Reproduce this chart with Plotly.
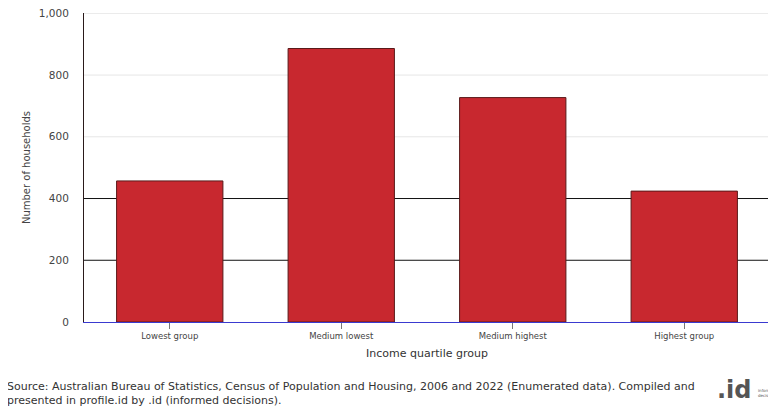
import plotly.graph_objects as go

categories = ["Lowest group", "Medium lowest", "Medium highest", "Highest group"]
households = [457, 886, 727, 424]
y_ticks = [0, 200, 400, 600, 800, 1000]
y_tick_labels = ["0", "200", "400", "600", "800", "1,000"]
dark_grid = [200, 400]
light_grid = [600, 800, 1000]

source = ("Source: Australian Bureau of Statistics, Census of Population and Housing, 2006 and 2022 (Enumerated data). Compiled and<br>"
          "presented in profile.id by .id (informed decisions).")

FONT = "DejaVu Sans, Verdana, sans-serif"
W, H = 768, 400
L, R, T, B = 76, 6, 5, 86
PW, PH = W - L - R, H - T - B

fig = go.Figure()
fig.add_trace(go.Bar(
    x=categories, y=households,
    marker=dict(color="#C8282F", line=dict(color="#5a1a1a", width=1)),
    width=0.62,
    hovertemplate="%{x}: %{y}<extra></extra>",
))

for v in dark_grid:
    fig.add_shape(type="line", xref="paper", yref="y", x0=0, x1=1, y0=v, y1=v,
                  line=dict(color="#111111", width=1), layer="below")
for v in light_grid:
    fig.add_shape(type="line", xref="paper", yref="y", x0=0, x1=1, y0=v, y1=v,
                  line=dict(color="#e6e6e6", width=1), layer="below")

fig.update_layout(
    width=W, height=H,
    margin=dict(l=L, r=R, t=T, b=B),
    plot_bgcolor="white", paper_bgcolor="white",
    font=dict(family=FONT, size=9, color="#444444"),
    showlegend=False,
    xaxis=dict(
        automargin=False,
        showgrid=False, showline=True, linecolor="#3a3ad0", linewidth=1,
        ticks="outside", ticklen=6, tickcolor="#777777",
        tickfont=dict(size=8.5, color="#444444"),
        title=dict(text="Income quartile group", font=dict(size=11, color="#333333"), standoff=9),
    ),
    yaxis=dict(
        automargin=False, ticklabeloverflow="allow",
        range=[0, 1001], tickvals=y_ticks, ticktext=y_tick_labels,
        showgrid=False, zeroline=False, showline=True, linecolor="#2a1a1a", linewidth=1,
        tickfont=dict(size=10.5, color="#444444"), ticklabelstandoff=12,
        title=dict(text="Number of households", font=dict(size=10, color="#444444"), standoff=6),
    ),
)

fig.add_annotation(text=source, xref="paper", yref="paper", x=(-3 - L) / PW, y=-56 / PH,
                   xanchor="left", yanchor="top", align="left", showarrow=False,
                   font=dict(family=FONT, size=11, color="#333333"))
fig.add_annotation(text="<b>.id</b>", xref="paper", yref="paper", x=(746 - L) / PW, y=-52 / PH,
                   xanchor="right", yanchor="top", showarrow=False,
                   font=dict(family=FONT, size=24, color="#555555"))
fig.add_annotation(text="informed<br>decisions", xref="paper", yref="paper", x=(748 - L) / PW, y=-64 / PH,
                   xanchor="left", yanchor="top", align="left", showarrow=False,
                   font=dict(family=FONT, size=4, color="#555555"))

fig.write_html("out.html")
